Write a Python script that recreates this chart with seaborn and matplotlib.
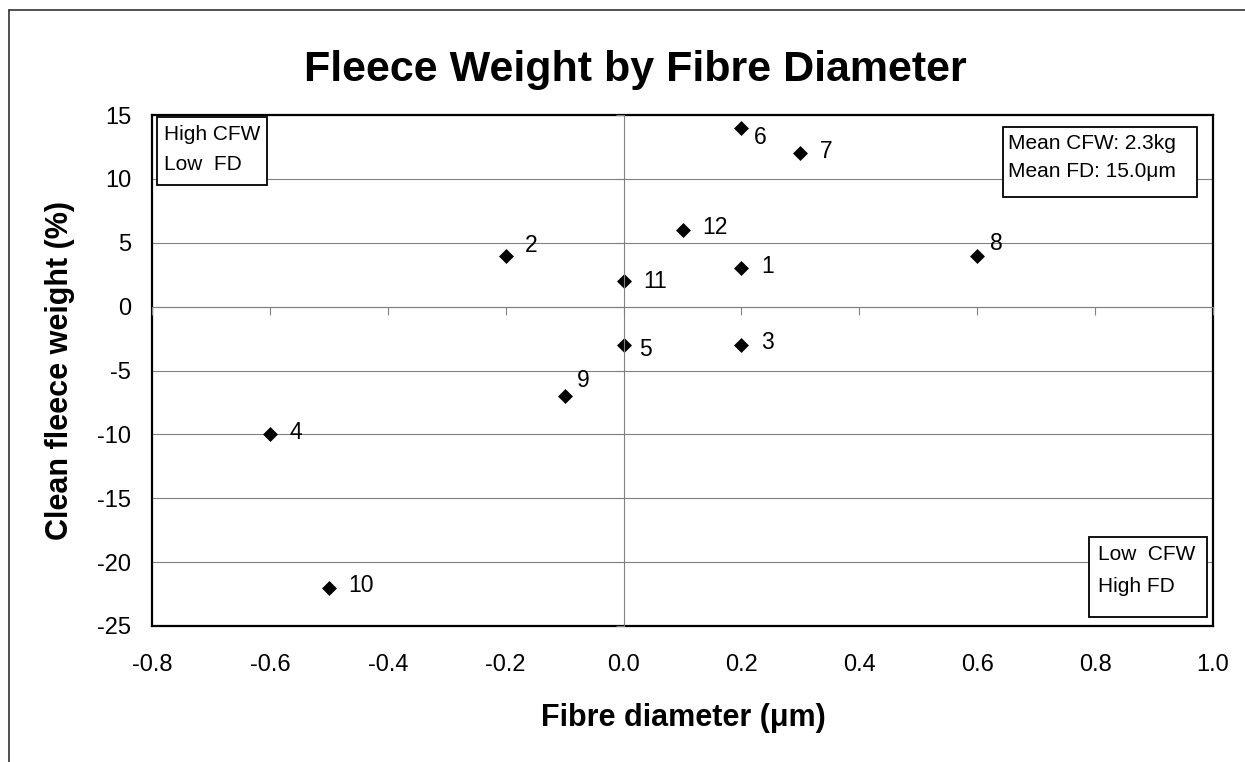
import matplotlib
matplotlib.use('Agg')
import matplotlib.pyplot as plt
from matplotlib.patches import Rectangle
from matplotlib.lines import Line2D
import seaborn as sns
import pandas as pd

# Data
sheep_ids = ['1', '2', '3', '4', '5', '6', '7', '8', '9', '10', '11', '12']
fd_diff = [0.2, -0.2, 0.2, -0.6, 0.0, 0.2, 0.3, 0.6, -0.1, -0.5, 0.0, 0.1]
cfw_diff = [3, 4, -3, -10, -3, 14, 12, 4, -7, -22, 2, 6]

x_ticks = [-0.8, -0.6, -0.4, -0.2, 0.0, 0.2, 0.4, 0.6, 0.8, 1.0]
y_ticks = [-25, -20, -15, -10, -5, 0, 5, 10, 15]

# label offsets (points) for each data label, positive dy = up
label_offsets = [(14, 1.5), (14, 7), (14, 1.5), (14, 1), (11, -3), (9, -7),
                 (14, 1.5), (9, 9), (9, 11), (14, 1.5), (14, 0), (14, 1.5)]

df = pd.DataFrame({'id': sheep_ids, 'fd': fd_diff, 'cfw': cfw_diff})

W, H = 1245, 762
sns.set_style('white')
plt.rcParams['font.family'] = ['Liberation Sans', 'DejaVu Sans']
plt.rcParams['text.color'] = 'black'
plt.rcParams['axes.labelcolor'] = 'black'
plt.rcParams['xtick.color'] = 'black'
plt.rcParams['ytick.color'] = 'black'

fig = plt.figure(figsize=(W / 100, H / 100), dpi=100)


def px(x, y):
    # pixel coords (from top-left) to figure fraction
    return x / W, 1 - y / H


# plot area
left, top, right, bottom = 152, 115, 1213, 626
rect = [left / W, 1 - bottom / H, (right - left) / W, (bottom - top) / H]
ax = fig.add_axes(rect)

sns.scatterplot(data=df, x='fd', y='cfw', marker='D', s=58, color='black',
                edgecolor='black', linewidth=0, zorder=5, ax=ax)

for sid, x, y, (dx, dy) in zip(sheep_ids, fd_diff, cfw_diff, label_offsets):
    ax.annotate(sid, (x, y), xytext=(dx, dy), textcoords='offset points',
                ha='left', va='center', fontsize=16.5, color='black', zorder=6)

ax.set_xlim(-0.8, 1.0)
ax.set_ylim(-25, 15)
ax.set_xticks(x_ticks)
ax.set_yticks(y_ticks)
ax.set_xticklabels([f'{t:.1f}' for t in x_ticks])
ax.set_yticklabels([str(t) for t in y_ticks])
ax.tick_params(axis='x', length=0, pad=20, labelsize=17, labelcolor='black')
ax.tick_params(axis='y', length=0, pad=15, labelsize=17, labelcolor='black')
ax.set_xlabel('')
ax.set_ylabel('')

# horizontal gridlines
ax.yaxis.grid(True, color='#808080', linewidth=0.8)
ax.xaxis.grid(False)
ax.set_axisbelow(True)
for sp in ax.spines.values():
    sp.set_color('black')
    sp.set_linewidth(1.6)
    sp.set_visible(True)

# axes crossing at zero, with small outward ticks
ax0 = fig.add_axes(rect, sharex=ax, sharey=ax)
ax0.patch.set_alpha(0)
ax0.spines['right'].set_visible(False)
ax0.spines['top'].set_visible(False)
ax0.spines['left'].set_position(('data', 0))
ax0.spines['bottom'].set_position(('data', 0))
ax0.spines['left'].set_color('#808080')
ax0.spines['bottom'].set_color('#808080')
ax0.spines['left'].set_linewidth(0.8)
ax0.spines['bottom'].set_linewidth(0.8)
ax0.tick_params(axis='both', direction='out', length=6, width=0.8,
                color='#808080', labelleft=False, labelbottom=False,
                left=True, bottom=True)
ax0.grid(False)

# titles
fig.text(*px(635, 70), 'Fleece Weight by Fibre Diameter', ha='center',
         va='center', fontsize=31, fontweight='bold')
fig.text(*px(683, 718), 'Fibre diameter (\u03bcm)', ha='center',
         va='center', fontsize=22, fontweight='bold')
fig.text(*px(60, 370), 'Clean fleece weight (%)', ha='center',
         va='center', fontsize=22, fontweight='bold', rotation=90)

# annotation boxes: (x0, y0, x1, y1, text_x, [(baseline_y, text)])
boxes = [
    (157, 117, 267, 185, 164, [(140, 'High CFW'), (170, 'Low  FD')]),
    (1003, 127, 1197, 197, 1008, [(149, 'Mean CFW: 2.3kg'),
                                  (177, 'Mean FD: 15.0\u03bcm')]),
    (1089, 537, 1207, 617, 1098, [(560, 'Low  CFW'), (592, 'High FD')]),
]
for x0, y0, x1, y1, tx, lines in boxes:
    bx, by = px(x0, y1)
    fig.patches.append(Rectangle((bx, by), (x1 - x0) / W, (y1 - y0) / H,
                                 transform=fig.transFigure, facecolor='white',
                                 edgecolor='black', linewidth=1.3, zorder=10))
    for ly, txt in lines:
        fig.text(*px(tx, ly), txt, ha='left', va='baseline', fontsize=15,
                 zorder=11)

# outer chart border (top and left edges visible)
fig.lines.append(Line2D([9 / W, 1], [1 - 10 / H, 1 - 10 / H],
                        transform=fig.transFigure, color='#333333', linewidth=1.2))
fig.lines.append(Line2D([9 / W, 9 / W], [0, 1 - 10 / H],
                        transform=fig.transFigure, color='#333333', linewidth=1.2))

plt.savefig('out.png', dpi=100)
